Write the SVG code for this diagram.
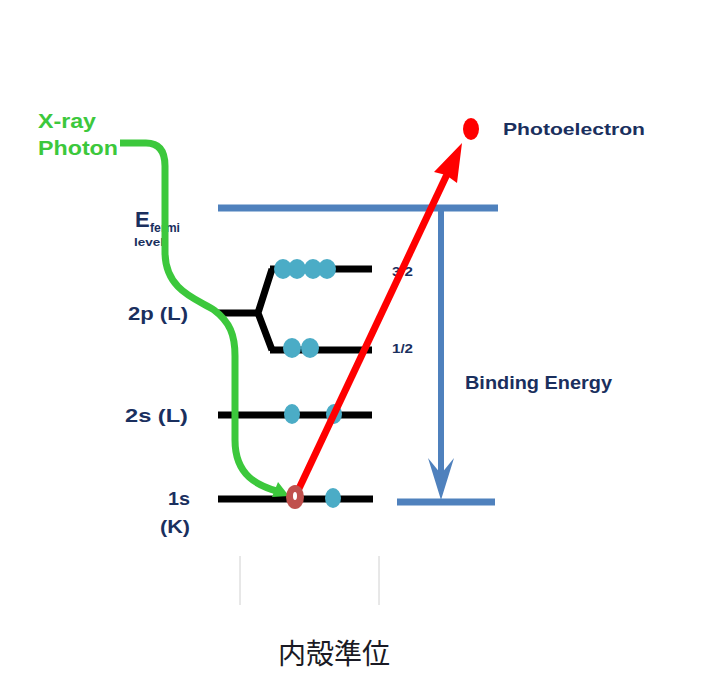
<svg xmlns="http://www.w3.org/2000/svg" width="720" height="698" viewBox="0 0 720 698">
<style>
.lvl{stroke:#000;stroke-width:7;fill:none}
.blue{stroke:#4f81bd;stroke-width:7;fill:none}
.lab{font-family:"Liberation Sans",Arial,sans-serif;font-weight:bold;fill:#1a2f5e}
.dot{fill:#4bacc6}
.gray{stroke:#d0d0d0;stroke-width:1}
.grn{font-family:"Liberation Sans",Arial,sans-serif;font-weight:bold;font-size:21px;fill:#3cc83c}
</style>
<rect width="720" height="698" fill="#fff"/>
<g id="fermi-level">
<line class="blue" x1="218" y1="208" x2="498" y2="208"/>
<text class="lab" x="135" y="227" font-size="22" style="font-weight:600">E</text>
<text class="lab" x="150" y="232" font-size="12" textLength="30" lengthAdjust="spacingAndGlyphs">fermi</text>
<text class="lab" x="134" y="246" font-size="10" textLength="30" lengthAdjust="spacingAndGlyphs">level</text>
</g>
<g id="level-2p">
<polyline class="lvl" points="218,313 258,313"/>
<polyline class="lvl" points="272,269 258,313 272,350"/>
<line class="lvl" x1="270" y1="269" x2="372" y2="269"/>
<line class="lvl" x1="270" y1="350" x2="372" y2="350"/>
<ellipse class="dot" cx="283" cy="269" rx="9" ry="10"/>
<ellipse class="dot" cx="297" cy="269" rx="9" ry="10"/>
<ellipse class="dot" cx="313" cy="269" rx="9" ry="10"/>
<ellipse class="dot" cx="327" cy="269" rx="9" ry="10"/>
<ellipse class="dot" cx="292" cy="348" rx="9" ry="10"/>
<ellipse class="dot" cx="310" cy="348" rx="9" ry="10"/>
<text class="lab" x="128" y="320" font-size="19" textLength="60" lengthAdjust="spacingAndGlyphs">2p (L)</text>
<text class="lab" x="392" y="276" font-size="12" textLength="21" lengthAdjust="spacingAndGlyphs">3/2</text>
<text class="lab" x="392" y="353" font-size="12" textLength="21" lengthAdjust="spacingAndGlyphs">1/2</text>
</g>
<g id="level-2s">
<line class="lvl" x1="218" y1="415" x2="372" y2="415"/>
<ellipse class="dot" cx="292" cy="414" rx="8" ry="10"/>
<ellipse class="dot" cx="334" cy="414" rx="8" ry="10"/>
<text class="lab" x="125" y="422" font-size="19" textLength="63" lengthAdjust="spacingAndGlyphs">2s (L)</text>
</g>
<g id="level-1s">
<line class="lvl" x1="218" y1="499" x2="373" y2="499"/>
<ellipse class="dot" cx="333" cy="498" rx="8" ry="10"/>
<text class="lab" x="168" y="505" font-size="19" textLength="22" lengthAdjust="spacingAndGlyphs">1s</text>
<text class="lab" x="160" y="533" font-size="19" textLength="30" lengthAdjust="spacingAndGlyphs">(K)</text>
</g>
<g id="xray-photon">
<text class="grn" x="38" y="128" textLength="58" lengthAdjust="spacingAndGlyphs">X-ray</text>
<text class="grn" x="38" y="155" textLength="80" lengthAdjust="spacingAndGlyphs">Photon</text>
</g>
<g id="photoelectron">
<ellipse cx="471" cy="129" rx="8" ry="11" fill="#ff0000"/>
<text class="lab" x="503" y="135" font-size="17" style="font-weight:600" textLength="142" lengthAdjust="spacingAndGlyphs">Photoelectron</text>
</g>
<g id="binding-energy">
<line class="blue" x1="397" y1="502" x2="495" y2="502"/>
<text class="lab" x="465" y="389" font-size="18" style="font-weight:600" textLength="147" lengthAdjust="spacingAndGlyphs">Binding Energy</text>
</g>
<g id="connectors">
<path d="M120,143 L146,143 Q165,143 165,166 L165,252 C165,292 200,300 214,310 C230,322 235,335 235,356 L235,440 C235,476 258,486 280,492" fill="none" stroke="#3cc83c" stroke-width="7"/>
<polygon points="289,496 272,497 278,482" fill="#3cc83c"/>
<line x1="441" y1="210" x2="441" y2="480" stroke="#4f81bd" stroke-width="6"/>
<polygon points="441,500 428,458 441,474 454,458" fill="#4f81bd"/>
<line x1="295" y1="497" x2="450" y2="168" stroke="#ff0000" stroke-width="7"/>
<polygon points="462,143 434,172 446,175 457,183" fill="#ff0000"/>
</g>
<g id="core-electron">
<ellipse cx="295" cy="497" rx="9" ry="12" fill="#c0504d"/>
<ellipse cx="295" cy="496" rx="2" ry="4" fill="#fff"/>
</g>
<g id="footer">
<line class="gray" x1="240" y1="556" x2="240" y2="605"/>
<line class="gray" x1="379" y1="556" x2="379" y2="605"/>
<text x="334" y="664" text-anchor="middle" font-family="Noto Sans CJK JP,Noto Sans CJK SC,sans-serif" font-size="28" fill="#1a1a24">内殻準位</text>
</g>
</svg>
